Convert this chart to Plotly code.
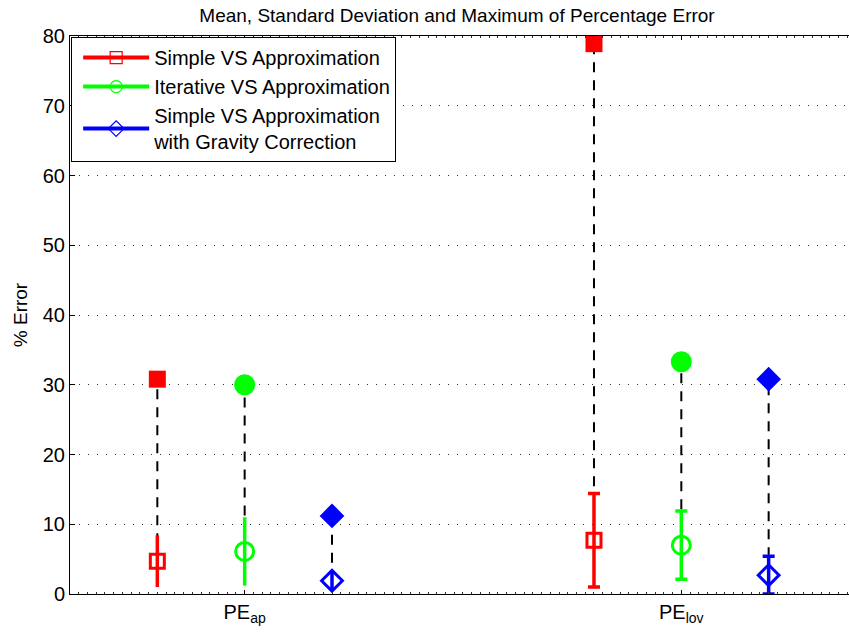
import plotly.graph_objects as go

# Error statistics per comparison, for the two error measures
categories = ["PE<sub>ap</sub>", "PE<sub>lov</sub>"]
series_names = [
    "Simple VS Approximation",
    "Iterative VS Approximation",
    "Simple VS Approximation<br>with Gravity Correction",
]
mean_simple = [4.7, 7.7]
std_simple = [3.7, 6.7]
max_simple = [30.8, 78.9]

mean_iterative = [6.1, 7.0]
std_iterative = [4.9, 4.9]
max_iterative = [30.0, 33.3]

mean_gravity = [1.9, 2.7]
std_gravity = [1.3, 2.7]
max_gravity = [11.2, 30.8]

y_ticks = [0, 10, 20, 30, 40, 50, 60, 70, 80]

means = [mean_simple, mean_iterative, mean_gravity]
stds = [std_simple, std_iterative, std_gravity]
maxes = [max_simple, max_iterative, max_gravity]
colors = ["#FF0000", "#00FF00", "#0000FF"]
open_symbols = ["square-open", "circle-open", "diamond-open"]
filled_symbols = ["square", "circle", "diamond"]
open_sizes = [14, 18, 16]
filled_sizes = [17, 21, 19]
offsets = [-0.2, 0.0, 0.2]
cap_widths = [0, 6]

fig = go.Figure()

# dashed connectors from the mean up to the maximum
for s in range(3):
    for c in range(len(categories)):
        xpos = c + 1 + offsets[s]
        fig.add_trace(go.Scatter(
            x=[xpos, xpos], y=[means[s][c], maxes[s][c]],
            mode="lines", line=dict(color="black", width=2, dash="10px,8px"),
            showlegend=False, hoverinfo="skip",
        ))

# mean +/- standard deviation
for s in range(3):
    for c in range(len(categories)):
        xpos = c + 1 + offsets[s]
        fig.add_trace(go.Scatter(
            x=[xpos], y=[means[s][c]], mode="markers",
            marker=dict(symbol=open_symbols[s], size=open_sizes[s], color=colors[s],
                        line=dict(width=3, color=colors[s])),
            error_y=dict(type="data", array=[stds[s][c]], visible=True,
                         color=colors[s], thickness=3.5, width=cap_widths[c]),
            showlegend=False,
        ))

# maxima
for s in range(3):
    fig.add_trace(go.Scatter(
        x=[c + 1 + offsets[s] for c in range(len(categories))], y=maxes[s],
        mode="markers", cliponaxis=False,
        marker=dict(symbol=filled_symbols[s], size=filled_sizes[s], color=colors[s],
                    line=dict(width=0)),
        showlegend=False,
    ))

# legend entries
for s in range(3):
    fig.add_trace(go.Scatter(
        x=[None], y=[None], mode="lines+markers", name=series_names[s],
        line=dict(color=colors[s], width=4),
        marker=dict(symbol=open_symbols[s], size=12, color=colors[s],
                    line=dict(width=1.2, color=colors[s])),
    ))

fig.update_layout(
    width=849, height=635,
    margin=dict(l=70, r=0, t=36, b=41),
    paper_bgcolor="white", plot_bgcolor="white",
    font=dict(family="Liberation Sans, Arial, sans-serif", size=20, color="black"),
    title=dict(text="Mean, Standard Deviation and Maximum of Percentage Error",
               x=457 / 849, xanchor="center", y=1 - 15 / 635, yanchor="middle",
               yref="container", font=dict(size=19)),
    legend=dict(x=0.0015, y=0.998, xanchor="left", yanchor="top",
                bgcolor="white", bordercolor="black", borderwidth=1,
                font=dict(size=20), itemwidth=66, tracegroupgap=0, indentation=6),
    showlegend=True,
)

fig.update_xaxes(
    range=[0.6, 2.384], tickvals=[1, 2], ticktext=categories,
    showline=True, linecolor="black", linewidth=1, mirror="ticks",
    ticks="inside", ticklen=4, tickcolor="black",
    minor=dict(dtick=0.02, ticks="inside", ticklen=2, tickcolor="#333"),
    showgrid=False, zeroline=False, tickfont=dict(size=20),
)
fig.update_yaxes(
    range=[0, 80], tickvals=y_ticks,
    showline=True, linecolor="black", linewidth=1,
    ticks="inside", ticklen=5, tickcolor="black",
    showgrid=True, gridcolor="#333", gridwidth=1, griddash="1px,8px",
    zeroline=False, tickfont=dict(size=20),
    title=dict(text="% Error", font=dict(size=19), standoff=10),
)

fig.write_html("out.html")
